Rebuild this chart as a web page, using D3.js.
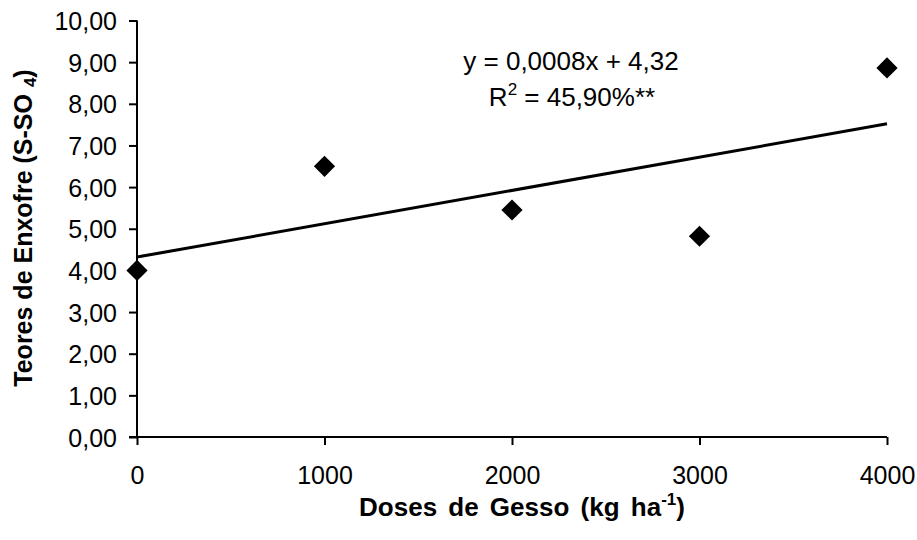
<!DOCTYPE html>
<html>
<head>
<meta charset="utf-8">
<script src="https://cdn.jsdelivr.net/npm/d3@7"></script>
<style>
  body { margin: 0; background: #fff; }
  svg text { font-family: Arial, "Liberation Sans", sans-serif; fill: #000; }
</style>
</head>
<body>
<div id="chart"></div>
<script>
// data
var doses = [0, 1000, 2000, 3000, 4000];
var enxofre = [4.00, 6.50, 5.45, 4.82, 8.86];
var yTicks = [0, 1, 2, 3, 4, 5, 6, 7, 8, 9, 10];
var xTicks = [0, 1000, 2000, 3000, 4000];
var slope = 0.0008, intercept = 4.32;   // from the equation label

var width = 917, height = 540;
var margin = {top: 20, right: 30, bottom: 103, left: 137};

var ptBR = d3.formatLocale({decimal: ",", thousands: ".", grouping: [3], currency: ["R$", ""]});
var fmt2 = ptBR.format(".2f");

var x = d3.scaleLinear().domain([0, 4000]).range([margin.left, 887]);
var y = d3.scaleLinear().domain([0, 10]).range([437, 20.5]);

var svg = d3.select("#chart").append("svg")
  .attr("width", width)
  .attr("height", height);

// axes
var yAxis = d3.axisLeft(y).tickValues(yTicks).tickFormat(fmt2).tickSize(8).tickPadding(12);
var xAxis = d3.axisBottom(x).tickValues(xTicks).tickFormat(d3.format("d")).tickSize(8).tickPadding(21);

var gy = svg.append("g")
  .attr("transform", "translate(" + x(0) + ",0)")
  .call(yAxis);
gy.select(".domain").attr("d", "M0," + y(10) + "V" + y(0)).attr("stroke-width", 2);

var gx = svg.append("g")
  .attr("transform", "translate(0," + y(0) + ")")
  .call(xAxis);
gx.select(".domain").attr("d", "M" + (x(0) - 8) + ",0H" + x(4000)).attr("stroke-width", 2);

svg.selectAll(".tick line").attr("stroke", "#000").attr("stroke-width", 2);
svg.selectAll(".tick text").style("font-size", "25px").attr("fill", "#000");
gy.selectAll(".tick text").attr("dy", "0.36em");

// trend line
svg.append("line")
  .attr("x1", x(0)).attr("y1", y(intercept))
  .attr("x2", x(4000)).attr("y2", y(intercept + slope * 4000))
  .attr("stroke", "#000")
  .attr("stroke-width", 3);

// points (diamonds)
svg.selectAll(".pt")
  .data(doses)
  .enter().append("path")
  .attr("class", "pt")
  .attr("d", d3.symbol().type(d3.symbolSquare).size(225))
  .attr("transform", function(d, i) { return "translate(" + x(d) + "," + y(enxofre[i]) + ") rotate(45)"; })
  .attr("fill", "#000");

// equation
svg.append("text")
  .attr("x", 571).attr("y", 70)
  .attr("text-anchor", "middle")
  .style("font-size", "26px")
  .text("y = 0,0008x + 4,32");

var r2 = svg.append("text")
  .attr("x", 572).attr("y", 106)
  .attr("text-anchor", "middle")
  .style("font-size", "26px");
r2.append("tspan").text("R");
r2.append("tspan").attr("dy", -11).style("font-size", "17px").text("2");
r2.append("tspan").attr("dy", 11).text(" = 45,90%**");

// axis titles
var xt = svg.append("text")
  .attr("x", 522).attr("y", 516)
  .attr("text-anchor", "middle")
  .style("font-size", "26px")
  .style("font-weight", "bold")
  .style("word-spacing", "4px")
  .text("Doses de Gesso (kg ha");
xt.append("tspan").attr("dy", -11).style("font-size", "17px").text("-1");
xt.append("tspan").attr("dy", 11).text(")");

var yt = svg.append("text")
  .attr("transform", "translate(32,228) rotate(-90)")
  .attr("text-anchor", "middle")
  .style("font-size", "25px")
  .style("font-weight", "bold")
  .text("Teores de Enxofre (S-SO ");
yt.append("tspan").attr("dy", 4).style("font-size", "17px").text("4");
yt.append("tspan").attr("dy", -4).text(")");
</script>
</body>
</html>
